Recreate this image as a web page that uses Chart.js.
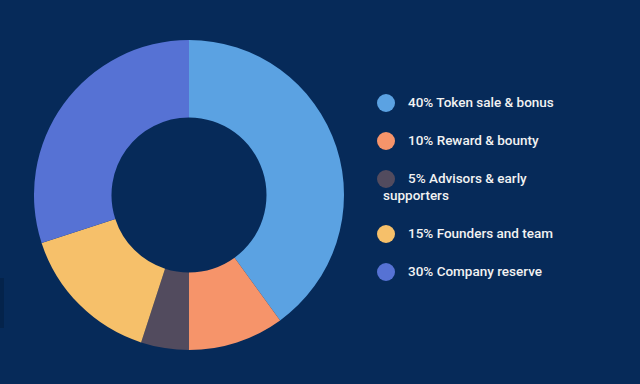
<!DOCTYPE html>
<html><head><meta charset="utf-8">
<script src="https://cdn.jsdelivr.net/npm/chart.js@4"></script>
<style>
html,body{margin:0;padding:0;width:640px;height:384px;overflow:hidden;background:#062a59;font-family:Roboto,sans-serif;}
#wrap{position:absolute;left:34px;top:40px;width:310px;height:310px;}
#edge{position:absolute;left:0;top:278px;width:4px;height:50px;background:#04234b;}
#legend{position:absolute;left:383px;top:94px;width:192px;}
.item{position:relative;color:#f2f2f2;font-size:13.5px;font-weight:500;line-height:17px;text-indent:25px;margin-bottom:21px;}
.dot{position:absolute;left:-6px;top:-0.5px;width:18px;height:18px;border-radius:50%;}
</style></head>
<body>
<div id="edge"></div>
<div id="wrap"><canvas id="c"></canvas></div>
<div id="legend"></div>
<script>
const labels = ["40% Token sale & bonus","10% Reward & bounty","5% Advisors & early supporters","15% Founders and team","30% Company reserve"];
const values = [40,10,5,15,30];
const colors = ["#5ba2e2","#f6946a","#524b5e","#f6c06a","#5672d4"];

new Chart(document.getElementById('c'), {
  type:'doughnut',
  data:{labels:labels, datasets:[{data:values, backgroundColor:colors, borderWidth:0}]},
  options:{
    responsive:true, maintainAspectRatio:false, animation:false,
    cutout:'50%',
    layout:{padding:0},
    plugins:{legend:{display:false}, tooltip:{enabled:false}}
  }
});

const lg = document.getElementById('legend');
labels.forEach((t,i)=>{
  const d = document.createElement('div'); d.className='item';
  const s = document.createElement('span'); s.className='dot'; s.style.background=colors[i];
  d.appendChild(s); d.appendChild(document.createTextNode(t));
  lg.appendChild(d);
});
</script>
</body></html>
